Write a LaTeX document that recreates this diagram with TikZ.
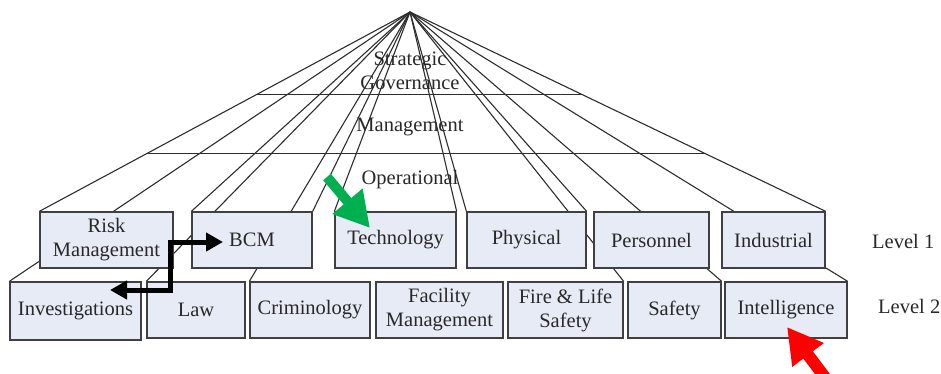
\documentclass[tikz,border=0pt]{standalone}
\usepackage{fontspec}
\setmainfont{Liberation Serif}
\usetikzlibrary{arrows.meta,calc,backgrounds}
\definecolor{boxfill}{RGB}{230,235,246}
\definecolor{boxline}{RGB}{64,64,64}
\definecolor{fanline}{RGB}{45,45,45}
\definecolor{labeltext}{RGB}{40,40,40}
\definecolor{markgreen}{RGB}{0,176,80}
\definecolor{markred}{RGB}{255,0,0}
\begin{document}
\begin{tikzpicture}[x=1pt,y=-1pt,
    every node/.style={font=\fontsize{20.5}{24}\selectfont,text=labeltext},
    area/.style={draw=boxline,fill=boxfill,line width=1.3pt,inner sep=0pt,
        minimum height=56pt,align=center},
    fan/.style={draw=fanline,line width=1.1pt},
    link/.style={line width=5pt,>={Triangle[length=17pt,width=18pt]},<->},
    pointer/.style={-{Triangle[length=35pt,width=37pt]}}]
    \useasboundingbox (0,0) rectangle (941,373);
    %% Apex
    \coordinate (apex) at (410,12);
    %% Level 1
    \node[area,minimum width=133pt] (rm) at (106.5,240) {Risk\\Management};
    \node[area,minimum width=120pt] (bcm) at (252,240) {BCM};
    \node[area,minimum width=121pt] (tech) at (395.5,240) {Technology};
    \node[area,minimum width=119pt] (phys) at (526.5,240) {Physical};
    \node[area,minimum width=115pt] (pers) at (651.5,240) {Personnel};
    \node[area,minimum width=103pt] (ind) at (773.5,240) {Industrial};
    %% Level 2
    \node[area,minimum width=131pt,minimum height=58pt] (inv) at (75.5,311) {Investigations};
    \node[area,minimum width=98pt] (law) at (196,310) {Law};
    \node[area,minimum width=120pt] (crim) at (310,310) {Criminology};
    \node[area,minimum width=127pt] (fac) at (439.5,310) {Facility\\Management};
    \node[area,minimum width=115pt] (fire) at (565.5,310) {Fire \& Life\\Safety};
    \node[area,minimum width=93pt] (saf) at (674.5,310) {Safety};
    \node[area,minimum width=122pt] (intel) at (786,310) {Intelligence};
    %% Fan and tiers, behind the boxes
    \begin{scope}[on background layer]
        \foreach \tip in {rm.north west,inv.north west,bcm.north west,
            law.north west,crim.north west,bcm.north east,tech.north west,
            tech.north east,phys.north west,phys.north east,fire.north east,
            saf.north east,intel.north east,ind.north east}
            \draw[fan] (apex) -- (\tip);
        \draw[fan] ($(apex)!0.415!(rm.north west)$) -- ($(apex)!0.415!(ind.north east)$);
        \draw[fan] ($(apex)!0.71!(rm.north west)$) -- ($(apex)!0.71!(ind.north east)$);
    \end{scope}
    %% Tier names
    \node (strat) at (410,71) [align=center] {Strategic\\Governance};
    \node (mgmt) at (410,131) [anchor=base] {Management};
    \node (oper) at (410,184) [anchor=base] {Operational};
    %% Levels
    \node (lvla) at (872,248) [anchor=base west,inner sep=0pt] {Level 1};
    \node (lvlb) at (878,313) [anchor=base west,inner sep=0pt] {Level 2};
    %% Link between Investigations and BCM
    \coordinate (invend) at (110,290);
    \coordinate (bcmend) at (223,242);
    \draw[link] (invend) -- ++(60,0) |- (bcmend);
    %% Markers
    \draw[pointer,markgreen,line width=10pt] (327,177) -- (370,228);
    \draw[pointer,markred,line width=12pt] (836,392) -- (787,327);
\end{tikzpicture}
\end{document}
